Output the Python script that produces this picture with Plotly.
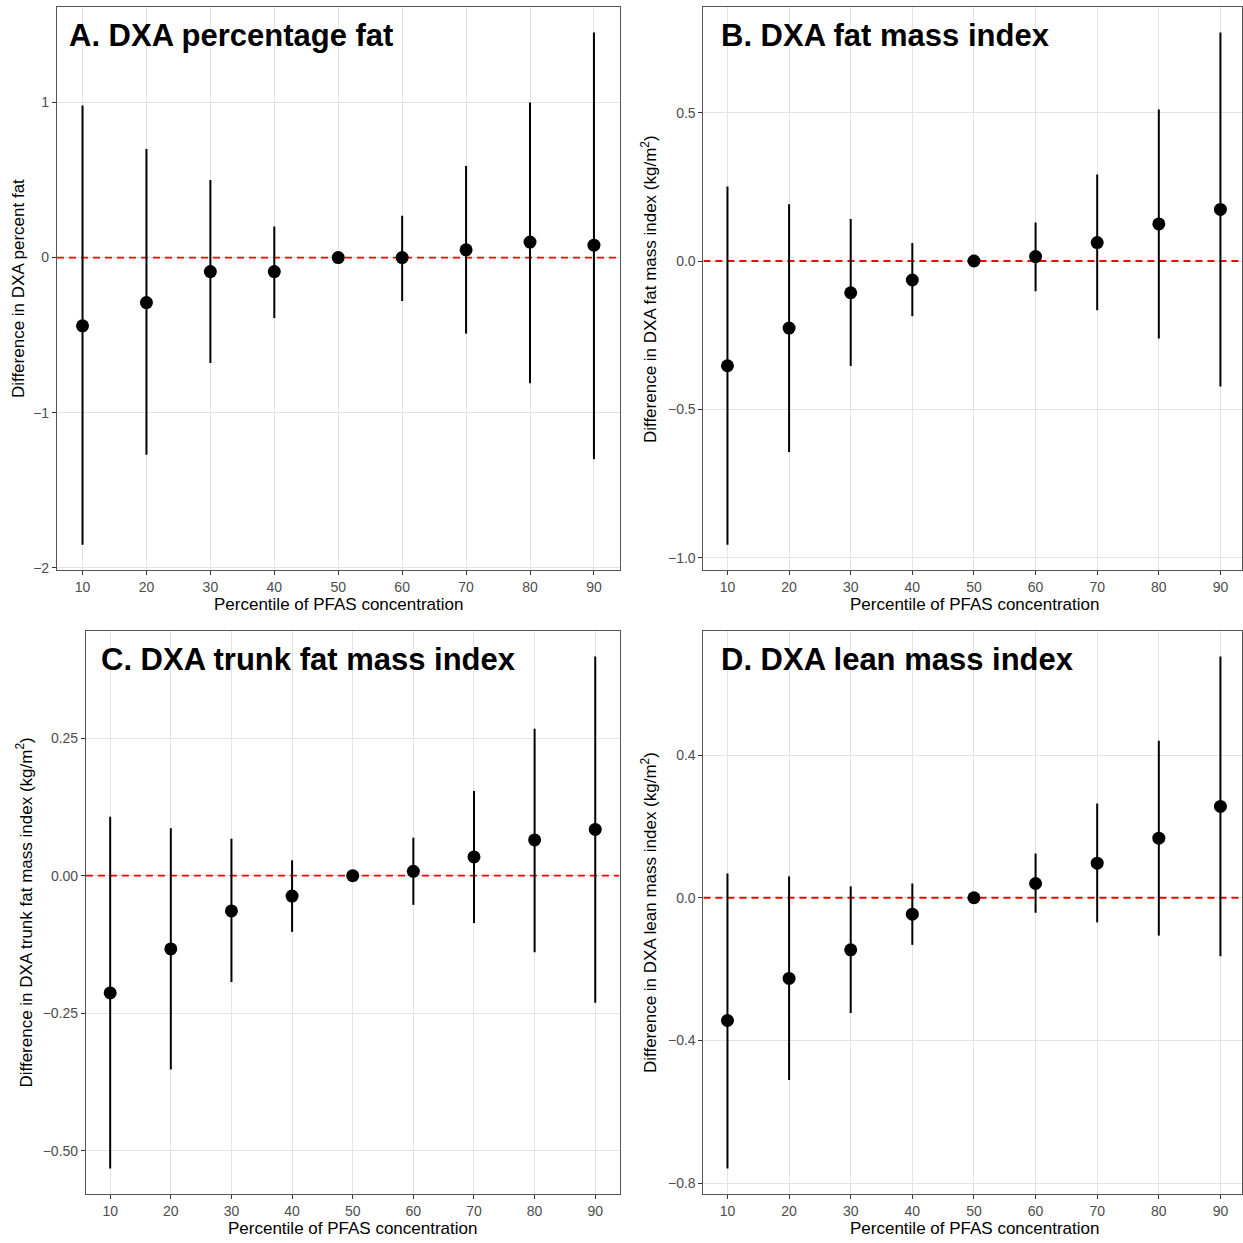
import plotly.graph_objects as go

W = H = 1243

# Percentiles of PFAS concentration (50th is the reference level)
percentiles = [10, 20, 30, 40, 50, 60, 70, 80, 90]

# A. DXA percentage fat: estimate and 95% CI
a_est = [-0.44, -0.29, -0.09, -0.09, 0.0, 0.0, 0.05, 0.10, 0.08]
a_lo = [-1.85, -1.27, -0.68, -0.39, 0.0, -0.28, -0.49, -0.81, -1.30]
a_hi = [0.98, 0.70, 0.50, 0.20, 0.0, 0.27, 0.59, 1.00, 1.45]

# B. DXA fat mass index (kg/m2)
b_est = [-0.353, -0.226, -0.107, -0.064, 0.0, 0.015, 0.062, 0.125, 0.174]
b_lo = [-0.956, -0.644, -0.354, -0.186, 0.0, -0.102, -0.166, -0.261, -0.423]
b_hi = [0.251, 0.191, 0.142, 0.061, 0.0, 0.130, 0.292, 0.511, 0.770]

# C. DXA trunk fat mass index (kg/m2)
c_est = [-0.213, -0.133, -0.064, -0.037, 0.0, 0.008, 0.034, 0.065, 0.084]
c_lo = [-0.532, -0.352, -0.193, -0.102, 0.0, -0.053, -0.086, -0.139, -0.231]
c_hi = [0.107, 0.086, 0.067, 0.028, 0.0, 0.069, 0.154, 0.267, 0.398]

# D. DXA lean mass index (kg/m2)
d_est = [-0.344, -0.226, -0.146, -0.046, 0.0, 0.040, 0.097, 0.167, 0.256]
d_lo = [-0.759, -0.511, -0.323, -0.132, 0.0, -0.042, -0.069, -0.106, -0.164]
d_hi = [0.068, 0.060, 0.032, 0.040, 0.0, 0.124, 0.264, 0.440, 0.676]

# Tick labels
x_ticks = [10, 20, 30, 40, 50, 60, 70, 80, 90]
a_yticks = [-2, -1, 0, 1]
b_yticks = [-1.0, -0.5, 0.0, 0.5]
c_yticks = [-0.50, -0.25, 0.00, 0.25]
d_yticks = [-0.8, -0.4, 0.0, 0.4]

titles = ["A. DXA percentage fat", "B. DXA fat mass index",
          "C. DXA trunk fat mass index", "D. DXA lean mass index"]
y_titles = ["Difference in DXA percent fat",
            "Difference in DXA fat mass index (kg/m<sup>2</sup>)",
            "Difference in DXA trunk fat mass index (kg/m<sup>2</sup>)",
            "Difference in DXA lean mass index (kg/m<sup>2</sup>)"]
x_title = "Percentile of PFAS concentration"

# Panel geometry in pixels: plot box (left, top, right, bottom), x range,
# tick format, and where the axis titles sit
panels = [
    dict(est=a_est, lo=a_lo, hi=a_hi, yt=a_yticks, fmt="d",
         box=(57, 7, 620, 573), xr=[6, 94], ytx=18.5, title_x=67, xt_c=338.5),
    dict(est=b_est, lo=b_lo, hi=b_hi, yt=b_yticks, fmt=".1f",
         box=(704, 7, 1243, 573), xr=[6.1, 93.5], ytx=649, title_x=720, xt_c=975),
    dict(est=c_est, lo=c_lo, hi=c_hi, yt=c_yticks, fmt=".2f",
         box=(86, 634, 620, 1200), xr=[6, 94], ytx=24, title_x=99, xt_c=353),
    dict(est=d_est, lo=d_lo, hi=d_hi, yt=d_yticks, fmt=".1f",
         box=(704, 634, 1243, 1200), xr=[6.1, 93.5], ytx=649, title_x=720, xt_c=975),
]

FONT = "Liberation Sans, Arial, Helvetica, sans-serif"
fig = go.Figure()
annotations = []

for i, p in enumerate(panels):
    n = "" if i == 0 else str(i + 1)
    xa, ya = "x" + n, "y" + n
    L, T, R, B = p["box"]
    lo_all, hi_all = min(p["lo"]), max(p["hi"])
    pad = 0.05 * (hi_all - lo_all)
    yr = [lo_all - pad, hi_all + pad]

    # dashed reference line at no difference, spanning the x range
    fig.add_trace(go.Scatter(
        x=p["xr"], y=[0, 0], mode="lines",
        line=dict(color="#FF0000", width=1.8, dash="7px,5px"),
        xaxis=xa, yaxis=ya, showlegend=False, hoverinfo="skip"))

    fig.add_trace(go.Scatter(
        x=percentiles, y=p["est"], mode="markers",
        marker=dict(color="black", size=13),
        error_y=dict(type="data", symmetric=False,
                     array=[h - e for h, e in zip(p["hi"], p["est"])],
                     arrayminus=[e - l for e, l in zip(p["est"], p["lo"])],
                     color="black", thickness=2, width=0),
        xaxis=xa, yaxis=ya, showlegend=False, hoverinfo="skip"))

    axis_common = dict(showline=True, linecolor="#555555", linewidth=1,
                       mirror=True, ticks="outside", ticklen=4,
                       tickcolor="#333333", gridcolor="#E3E3E3", gridwidth=1.2,
                       zeroline=False,
                       tickfont=dict(family=FONT, size=14, color="#4D4D4D"))
    fig.layout["xaxis" + n] = dict(
        domain=[L / W, R / W], range=p["xr"], anchor=ya,
        tickvals=x_ticks, **axis_common)
    fig.layout["yaxis" + n] = dict(
        domain=[1 - B / H, 1 - T / H], range=yr, anchor=xa,
        tickvals=p["yt"], tickformat=p["fmt"], **axis_common)

    annotations.append(dict(text="<b>%s</b>" % titles[i], xref="paper", yref="paper",
                            x=p["title_x"] / W, y=1 - (T + 29) / H,
                            xanchor="left", yanchor="middle", showarrow=False,
                            font=dict(family=FONT, size=31, color="black")))
    annotations.append(dict(text=x_title, xref="paper", yref="paper",
                            x=p["xt_c"] / W, y=1 - (B + 34) / H,
                            xanchor="center", yanchor="middle", showarrow=False,
                            font=dict(family=FONT, size=17, color="black")))
    annotations.append(dict(text=y_titles[i], xref="paper", yref="paper",
                            x=p["ytx"] / W, y=1 - (T + B) / 2 / H,
                            textangle=-90, xanchor="center", yanchor="middle",
                            showarrow=False,
                            font=dict(family=FONT, size=17, color="black")))

fig.update_layout(width=W, height=H, margin=dict(l=0, r=0, t=0, b=0),
                  paper_bgcolor="white", plot_bgcolor="white",
                  annotations=annotations)

fig.write_html("out.html")
